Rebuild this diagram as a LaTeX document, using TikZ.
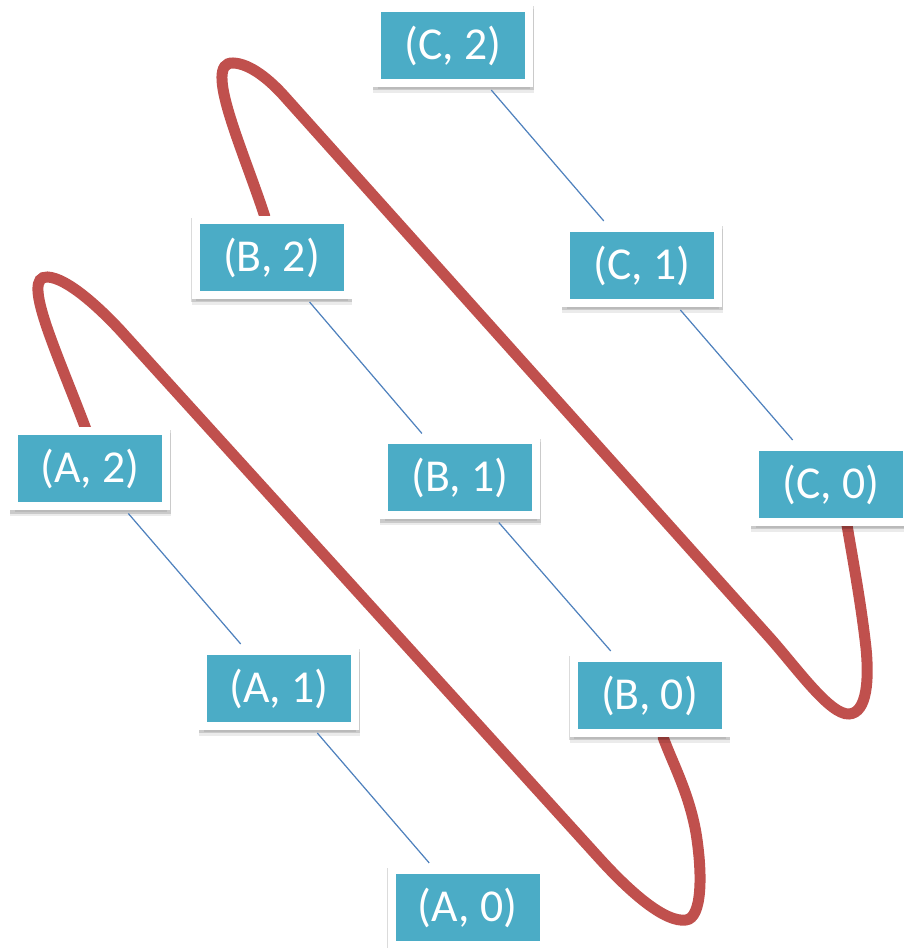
\documentclass[tikz,border=0pt]{standalone}
\usepackage{fontspec}
\setmainfont{Carlito}
\definecolor{cellfill}{RGB}{75,172,198}
\definecolor{loopred}{RGB}{192,80,77}
\definecolor{linkblue}{RGB}{79,129,189}
\usetikzlibrary{backgrounds}

\begin{document}
\begin{tikzpicture}[scale=1.0,
  cell/.style={draw=white, line width=0.16cm, fill=cellfill, text=white,
    minimum width=3.04cm, minimum height=1.5cm, inner sep=0pt,
    font=\fontsize{26}{30}\selectfont,
    preaction={draw=black, fill=black, opacity=0.08, line width=0.17cm,
      transform canvas={xshift=0.3pt, yshift=-3.2pt}},
    preaction={draw=black, fill=black, opacity=0.14, line width=0.18cm,
      transform canvas={xshift=0.2pt, yshift=-1.6pt}}},
  bluelink/.style={linkblue, line width=0.7pt, shorten <=0.08cm, shorten >=0.08cm},
  redloop/.style={loopred, line width=0.22cm, line cap=round}]
  \useasboundingbox (0,0) rectangle (18.06,18.96);
  %% 1. Cells
  \node[cell] (A2) at (1.80,9.58) {(A, 2)};
  \node[cell] (A1) at (5.58,5.19) {(A, 1)};
  \node[cell] (A0) at (9.35,0.81) {(A, 0)};
  \node[cell] (B2) at (5.43,13.81) {(B, 2)};
  \node[cell] (B1) at (9.20,9.40) {(B, 1)};
  \node[cell] (B0) at (12.99,5.05) {(B, 0)};
  \node[cell] (C2) at (9.06,18.05) {(C, 2)};
  \node[cell] (C1) at (12.84,13.65) {(C, 1)};
  \node[cell] (C0) at (16.62,9.27) {(C, 0)};
  %% 2. Links
  \draw[bluelink] (A2) -- (A1);
  \draw[bluelink] (A1) -- (A0);
  \draw[bluelink] (B2) -- (B1);
  \draw[bluelink] (B1) -- (B0);
  \draw[bluelink] (C2) -- (C1);
  \draw[bluelink] (C1) -- (C0);
  %% 3. Loops
  \begin{scope}[on background layer]
    \draw[redloop] (1.74,10.32) .. controls (1.15,11.9) and (0.40,13.45) .. (0.95,13.42)
      .. controls (1.35,13.40) and (2.0,12.79) .. (2.40,12.36)
      -- (12.0,1.78)
      .. controls (12.6,1.12) and (13.3,0.5) .. (13.72,0.56)
      .. controls (14.05,0.6) and (14.05,1.5) .. (13.92,2.3)
      .. controls (13.78,3.1) and (13.45,3.7) .. (13.26,4.22);
    \draw[redloop] (5.30,14.62) .. controls (4.85,16.0) and (4.05,17.72) .. (4.66,17.70)
      .. controls (5.0,17.69) and (5.40,17.36) .. (5.70,17.02)
      -- (15.4,6.2)
      .. controls (15.95,5.58) and (16.6,4.66) .. (16.98,4.68)
      .. controls (17.35,4.70) and (17.38,5.4) .. (17.32,6.0)
      .. controls (17.22,6.9) and (17.05,7.8) .. (16.94,8.46);
  \end{scope}
\end{tikzpicture}
\end{document}
